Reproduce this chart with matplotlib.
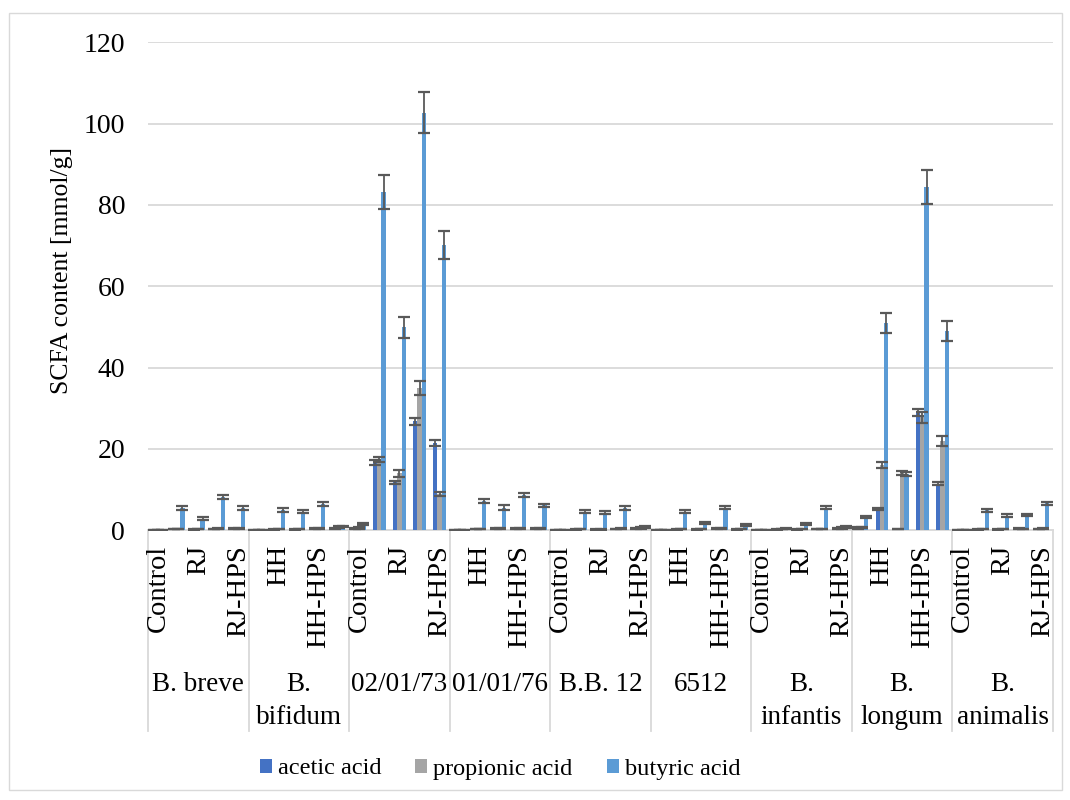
import matplotlib
matplotlib.use("Agg")
import matplotlib.pyplot as plt
import numpy as np
from matplotlib.patches import Rectangle, Patch
from matplotlib.transforms import blended_transform_factory

plt.rcParams['font.family'] = ['Liberation Serif', 'DejaVu Serif']

strains = ["B. breve", "B. bifidum", "02/01/73", "01/01/76", "B.B. 12",
           "6512", "B. infantis", "B. longum", "B. animalis"]
treatments = ["Control", "HH", "RJ", "HH-HPS", "RJ-HPS"]
series_names = ["acetic acid", "propionic acid", "butyric acid"]
series_colors = ["#4472C4", "#A5A5A5", "#5B9BD5"]

# one row per strain, in treatment order
acetic = [
    0.1, 0.3, 0.2, 0.3, 0.5,
    0.1, 0.2, 0.2, 0.4, 0.5,
    0.4, 16.7, 11.8, 26.8, 21.5,
    0.1, 0.3, 0.5, 0.5, 0.5,
    0.1, 0.2, 0.2, 0.3, 0.5,
    0.1, 0.2, 0.2, 0.4, 0.2,
    0.05, 0.2, 0.2, 0.3, 0.4,
    0.6, 5.2, 0.3, 29.0, 11.5,
    0.05, 0.2, 0.2, 0.4, 0.3,
]
propionic = [
    0.1, 0.3, 0.3, 0.4, 0.5,
    0.1, 0.3, 0.3, 0.4, 0.8,
    0.5, 17.4, 14.0, 35.0, 9.0,
    0.1, 0.3, 0.4, 0.5, 0.5,
    0.1, 0.3, 0.2, 0.4, 0.6,
    0.1, 0.3, 0.3, 0.5, 0.3,
    0.05, 0.3, 0.3, 0.3, 0.6,
    0.7, 16.0, 14.0, 27.8, 22.0,
    0.05, 0.3, 0.3, 0.3, 0.4,
]
butyric = [
    0.1, 5.5, 2.9, 8.1, 5.5,
    0.1, 5.1, 4.6, 6.4, 0.9,
    1.6, 83.2, 49.9, 102.7, 70.2,
    0.1, 7.1, 5.6, 8.6, 6.1,
    0.1, 4.6, 4.3, 5.5, 0.8,
    0.1, 4.6, 1.8, 5.6, 1.3,
    0.05, 0.4, 1.6, 5.6, 0.8,
    3.3, 50.9, 13.8, 84.4, 49.0,
    0.05, 4.9, 3.6, 3.7, 6.6,
]
acetic_err = [
    0.05, 0.1, 0.1, 0.1, 0.1,
    0.05, 0.1, 0.1, 0.1, 0.1,
    0.2, 0.7, 0.4, 0.8, 0.7,
    0.05, 0.1, 0.1, 0.1, 0.1,
    0.05, 0.1, 0.1, 0.1, 0.1,
    0.05, 0.1, 0.1, 0.1, 0.1,
    0.05, 0.1, 0.1, 0.1, 0.1,
    0.2, 0.3, 0.1, 0.8, 0.3,
    0.05, 0.1, 0.1, 0.1, 0.1,
]
propionic_err = [
    0.05, 0.1, 0.1, 0.1, 0.1,
    0.05, 0.1, 0.1, 0.1, 0.2,
    0.2, 0.7, 0.9, 1.8, 0.5,
    0.05, 0.1, 0.1, 0.1, 0.1,
    0.05, 0.1, 0.1, 0.1, 0.2,
    0.05, 0.1, 0.1, 0.1, 0.1,
    0.05, 0.1, 0.1, 0.1, 0.2,
    0.2, 0.8, 0.5, 1.4, 1.2,
    0.05, 0.1, 0.1, 0.1, 0.1,
]
butyric_err = [
    0.05, 0.5, 0.3, 0.5, 0.5,
    0.05, 0.5, 0.4, 0.5, 0.2,
    0.3, 4.2, 2.5, 5.0, 3.5,
    0.05, 0.5, 0.5, 0.5, 0.4,
    0.05, 0.4, 0.4, 0.5, 0.2,
    0.05, 0.4, 0.3, 0.4, 0.2,
    0.05, 0.1, 0.2, 0.4, 0.2,
    0.3, 2.5, 0.5, 4.2, 2.5,
    0.05, 0.4, 0.3, 0.3, 0.4,
]

W, H = 1070, 800
fig = plt.figure(figsize=(W / 100, H / 100), dpi=100)
ax = fig.add_axes([148 / W, 1 - 530.3 / H, (1053 - 148) / W, (530.3 - 42.3) / H])

n_t = len(treatments)
n = len(strains) * n_t
x = np.arange(n)
bw = 0.21
values = [acetic, propionic, butyric]
errors = [acetic_err, propionic_err, butyric_err]
for k, (vals, errs, col) in enumerate(zip(values, errors, series_colors)):
    ax.bar(x + (k - 1) * bw, vals, bw, color=col, zorder=3,
           yerr=errs,
           error_kw=dict(ecolor="#595959", elinewidth=1.3, capsize=4.2,
                         capthick=1.6, zorder=4))

ax.set_xlim(-0.5, n - 0.5)
ax.set_ylim(0, 120)
ax.set_yticks(np.arange(0, 121, 20))
ax.yaxis.grid(True, color="#D9D9D9", linewidth=1.3, zorder=0)
ax.set_axisbelow(True)
for s in ["left", "right", "top"]:
    ax.spines[s].set_visible(False)
ax.spines["bottom"].set_color("#D9D9D9")
ax.spines["bottom"].set_linewidth(1.3)
ax.tick_params(axis="y", length=0, pad=16.5, labelsize=20)
ax.set_xticks([])

fig.text(62 / W, 1 - 271 / H, "SCFA content [mmol/g]", rotation=90,
         ha="center", va="center", fontsize=18.5)

# two-level category axis
tr = blended_transform_factory(ax.transData, ax.transAxes)
ax_h = 530.3 - 42.3
sep_bottom = -(731 - 530.3) / ax_h
for g in range(len(strains) + 1):
    xb = g * n_t - 0.5
    ax.plot([xb, xb], [0, sep_bottom], transform=tr, color="#D9D9D9",
            linewidth=1.3, clip_on=False)

sub_top = -(545 - 530.3) / ax_h
for i in range(0, n, 2):
    ax.text(i, sub_top, treatments[i % n_t], transform=tr, rotation=90,
            ha="center", va="top", fontsize=20.5)

fig.canvas.draw()
renderer = fig.canvas.get_renderer()
grp_top = -(672 - 530.3) / ax_h
group_px = (1053 - 148) / len(strains)
for g, name in enumerate(strains):
    t = ax.text(g * n_t + (n_t - 1) / 2, grp_top, name, transform=tr,
                ha="center", va="top", multialignment="center",
                fontsize=19.5, linespacing=1.4)
    if t.get_window_extent(renderer).width > group_px * 0.95 and " " in name:
        t.set_text(name.replace(" ", "\n", 1))

handles = [Patch(facecolor=c, edgecolor="none") for c in series_colors]
fig.legend(handles, series_names, loc="center",
           bbox_to_anchor=(500 / W, 1 - 769 / H), ncol=3, frameon=False,
           fontsize=17.5, handlelength=0.5, handleheight=0.5,
           handletextpad=0.25, columnspacing=1.4)

fig.patches.append(Rectangle((9 / W, 10 / H), (1062 - 9) / W, (790 - 12.7) / H,
                             transform=fig.transFigure, fill=False,
                             edgecolor="#D9D9D9", linewidth=1.0))

fig.savefig("out.png", dpi=100)
